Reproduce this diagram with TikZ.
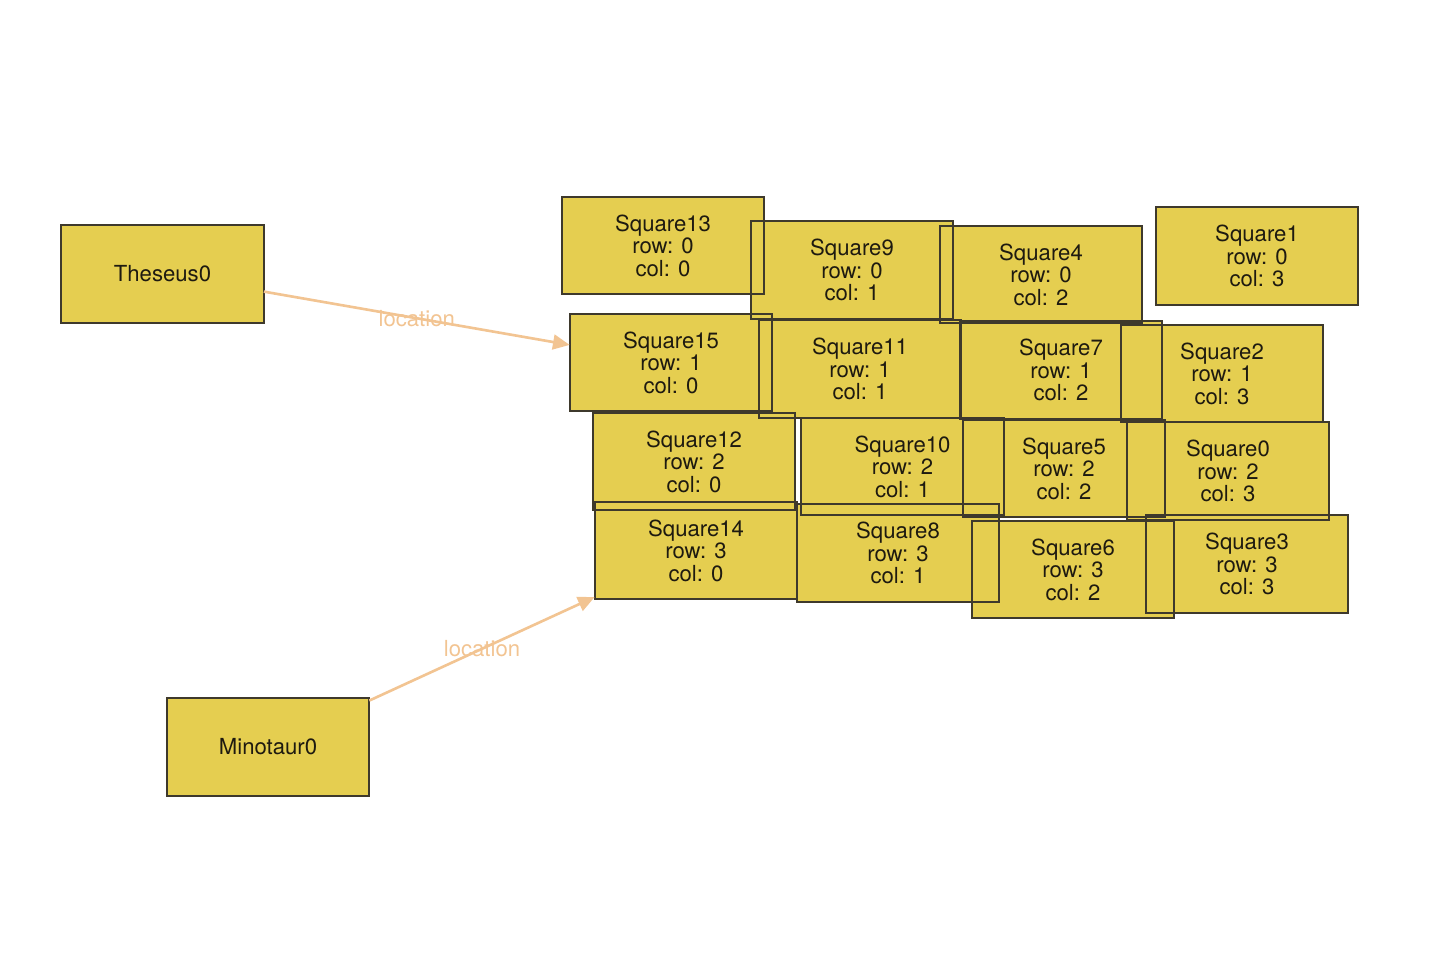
\documentclass[tikz,border=0pt]{standalone}
\usepackage{fontspec}
\setmainfont{TeX Gyre Heros}
\usetikzlibrary{arrows.meta}

\definecolor{boxfill}{RGB}{229,206,80}
\definecolor{boxline}{RGB}{62,57,44}
\definecolor{boxtext}{RGB}{30,26,16}
\definecolor{linkcol}{RGB}{242,196,146}

\begin{document}
\begin{tikzpicture}[x=0.02cm, y=-0.02cm,
    cell/.style  = {fill=boxfill, inner sep=0pt, minimum width=4.04cm, minimum height=1.94cm,
                    align=center, text=boxtext, font=\fontsize{12.6}{12.8}\selectfont},
    rim/.style   = {draw=boxline, line width=1.1pt},
    link/.style  = {-{Triangle[length=9.5pt,width=8.5pt]}, draw=linkcol, line width=1.5pt},
    tag/.style   = {text=linkcol, font=\fontsize{12.6}{12.8}\selectfont},
]

% --- Lienzo ---
\useasboundingbox (0,0) rectangle (1435,968);

% --- Actores ---
\node[cell] (theseus)  at (162.5,274) {Theseus0};
\node[cell] (minotaur) at (268,747)   {Minotaur0};

% --- Casillas, fila 0 ---
\node[cell] (sq13) at (663,245.5)  {Square13\\row: 0\\col: 0};
\node[cell] (sq9)  at (852,270)    {Square9\\row: 0\\col: 1};
\node[cell] (sq4)  at (1041,274.5) {Square4\\row: 0\\col: 2};
\node[cell] (sq1)  at (1257,256)   {Square1\\row: 0\\col: 3};

% --- Casillas, fila 1 ---
\node[cell] (sq15) at (671,362.5)  {Square15\\row: 1\\col: 0};
\node[cell] (sq11) at (860,369)    {Square11\\row: 1\\col: 1};
\node[cell] (sq7)  at (1061,370)   {Square7\\row: 1\\col: 2};
\node[cell] (sq2)  at (1222,373.5) {Square2\\row: 1\\col: 3};

% --- Casillas, fila 2 ---
\node[cell] (sq12) at (694,461.5)  {Square12\\row: 2\\col: 0};
\node[cell] (sq10) at (902.5,466.5){Square10\\row: 2\\col: 1};
\node[cell] (sq5)  at (1064,468.5) {Square5\\row: 2\\col: 2};
\node[cell] (sq0)  at (1228,471)   {Square0\\row: 2\\col: 3};

% --- Casillas, fila 3 ---
\node[cell] (sq14) at (696,550.5)  {Square14\\row: 3\\col: 0};
\node[cell] (sq8)  at (898,553)    {Square8\\row: 3\\col: 1};
\node[cell] (sq6)  at (1073,569.5) {Square6\\row: 3\\col: 2};
\node[cell] (sq3)  at (1247,564)   {Square3\\row: 3\\col: 3};

% --- Bordes (todos visibles) ---
\foreach \n in {theseus,minotaur,sq13,sq9,sq4,sq1,sq15,sq11,sq7,sq2,sq12,sq10,sq5,sq0,sq14,sq8,sq6,sq3}
  \draw[rim] (\n.south west) rectangle (\n.north east);

% --- Relaciones ---
\draw[link] (theseus)  -- node[tag] {location} (sq15);
\draw[link] (minotaur) -- node[tag] {location} (sq14);

\end{tikzpicture}
\end{document}
